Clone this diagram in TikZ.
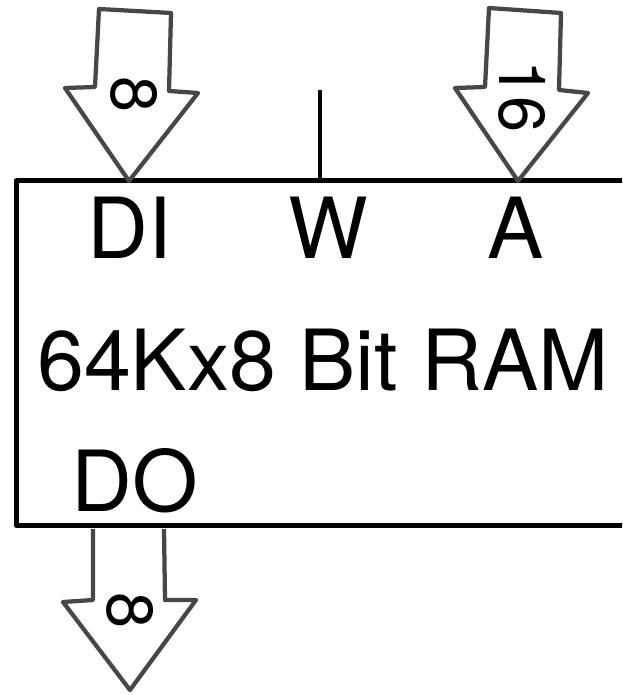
\documentclass[tikz,border=0pt]{standalone}
\usepackage{fontspec}
\setmainfont{TeX Gyre Heros}
\usepackage{tikz}
\usetikzlibrary{calc}

\begin{document}
\begin{tikzpicture}[x=0.02cm, y=-0.02cm,
    bus/.style={draw=black!72, line width=0.085cm, line join=round, fill=white},
    pin/.style={font=\fontsize{48}{56}\selectfont, anchor=base, inner sep=0pt},
    width/.style={font=\fontsize{37}{44}\selectfont, rotate=-90, inner sep=0pt}]
    \useasboundingbox (0,0) rectangle (622,695);
    \clip (0,0) rectangle (622,695);

    % blocco memoria
    \draw[line width=0.1cm, line join=round] (640,181) -- (16,181) -- (16,525) -- (640,525);

    % bus dati in ingresso
    \draw[bus] (99,9) -- (171,13) -- (169,91) -- (198,93) -- (129,181) -- (65,88) -- (95,87) -- cycle;
    \node[width] (din) at (134,95) {8};

    % bus indirizzi
    \draw[bus] (489,8) -- (561,13) -- (559,90) -- (588,93) -- (518,181) -- (455,88) -- (485,87) -- cycle;
    \node[width] (addr) at (522,97) {16};

    % bus dati in uscita
    \draw[bus] (93,529) -- (93,600) -- (63,602) -- (130,690) -- (196,600) -- (165,600) -- (164,529);
    \node[width] (dout) at (130,611) {8};

    % linea di scrittura
    \coordinate (wtop) at (320,90);
    \coordinate (wpin) at (320,181);
    \draw[line width=0.08cm] (wtop) -- (wpin);

    % etichette
    \node[pin] (di) at (130,259) {DI};
    \node[pin] (w) at (328,259) {W};
    \node[pin] (a) at (516,259) {A};
    \node[pin] (ram) at (323,390) {64Kx8 Bit RAM};
    \node[pin] (do) at (135,511) {DO};
\end{tikzpicture}
\end{document}
